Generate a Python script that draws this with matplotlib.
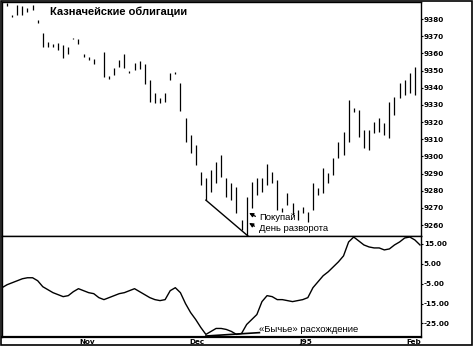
import matplotlib
matplotlib.use("Agg")
import matplotlib.pyplot as plt
from matplotlib.patches import Rectangle

# Daily bars for T-bonds: bar index, high, low
bar_idx = [1, 2, 3, 4, 5, 6, 7, 8, 9, 10, 11, 12, 13, 14, 15, 16, 17, 18, 20, 21,
           22, 23, 24, 25, 26, 27, 28, 29, 30, 31, 32, 33, 34, 35, 36, 37, 38, 39, 40, 41,
           42, 43, 44, 45, 46, 47, 48, 49, 50, 51, 52, 53, 54, 55, 56, 57, 58, 59, 60, 61,
           62, 63, 64, 65, 66, 67, 68, 69, 70, 71, 72, 73, 74, 75, 76, 77, 78, 79, 80, 81]
bar_high = [9389.3, 9382.3, 9388.1, 9387.6, 9386.4, 9388.1, 9379.4, 9371.9, 9366.6, 9365.5,
            9366.0, 9364.9, 9363.7, 9369.0, 9368.4, 9359.7, 9357.9, 9356.7, 9360.8, 9346.9,
            9351.5, 9356.2, 9359.7, 9349.8, 9354.4, 9355.6, 9353.8, 9344.5, 9337.0, 9334.1,
            9337.0, 9348.6, 9349.2, 9342.8, 9322.4, 9312.6, 9306.7, 9291.0, 9287.6, 9292.2,
            9296.9, 9300.9, 9287.6, 9284.7, 9282.3, 9263.1, 9276.5, 9285.2, 9287.6, 9287.6,
            9295.7, 9291.0, 9286.4, 9270.1, 9278.8, 9273.0, 9268.9, 9270.7, 9267.8, 9284.7,
            9281.8, 9293.4, 9290.5, 9299.2, 9308.5, 9314.3, 9332.9, 9328.3, 9327.1, 9315.5,
            9315.5, 9320.1, 9322.4, 9319.5, 9331.7, 9334.7, 9342.8, 9344.5, 9348.6, 9352.1]
bar_low = [9387.6, 9381.2, 9382.3, 9382.3, 9384.1, 9385.2, 9377.7, 9363.7, 9363.7, 9363.7,
           9362.0, 9357.3, 9359.7, 9368.4, 9365.5, 9357.9, 9356.2, 9353.8, 9346.3, 9345.1,
           9347.4, 9352.1, 9351.5, 9348.6, 9350.3, 9350.9, 9342.2, 9331.7, 9331.2, 9331.2,
           9331.7, 9344.5, 9348.0, 9326.5, 9308.5, 9302.1, 9295.1, 9283.5, 9274.8, 9279.4,
           9284.7, 9288.1, 9276.5, 9274.8, 9267.2, 9257.3, 9254.4, 9270.1, 9277.7, 9279.4,
           9283.5, 9284.7, 9269.0, 9267.8, 9271.9, 9266.0, 9263.1, 9267.2, 9262.0, 9269.0,
           9277.7, 9278.8, 9284.7, 9289.3, 9299.2, 9300.9, 9308.5, 9325.9, 9311.4, 9305.0,
           9303.8, 9313.7, 9314.3, 9312.6, 9310.8, 9324.2, 9334.1, 9335.8, 9337.0, 9335.8]

# Oscillator, one value per bar index 0..82
osc = [-7, -5.5, -4.5, -3.5, -2.5, -2, -2, -3.5, -6.5, -8,
       -9.5, -10.5, -11.5, -11, -9, -7.5, -8.5, -9.5, -10, -12,
       -13, -12, -11, -10, -9.5, -8.5, -7.5, -9, -10.5, -12,
       -13, -13.5, -13, -8.5, -7, -9.5, -15, -19.5, -23, -27,
       -30.5, -29, -27.5, -27.5, -28, -29, -30.5, -30, -25.5, -23,
       -20.5, -14, -11, -11.5, -13, -13, -13.5, -14, -13.5, -13,
       -12, -7, -4, -1, 1, 3.5, 6, 9, 16, 18.5,
       16.5, 14.5, 13.5, 13, 13, 12, 12.5, 14.5, 16, 18,
       18.5, 17, 14.5]

price_ticks = [9260, 9270, 9280, 9290, 9300, 9310, 9320, 9330, 9340, 9350, 9360, 9370, 9380]
osc_ticks = [-25, -15, -5, 5, 15]
month_pos = [16.7, 38.2, 59.6, 80.8]
month_labels = ["Nov", "Dec", "J95", "Feb"]

# trend line into the low and the flat "bullish divergence" line
trend_x = [40, 48.3]
trend_y = [9274.5, 9253.5]
div_x = [40, 50.5]
div_y = [-31.3, -29.6]

W, H = 476, 348
fig = plt.figure(figsize=(W / 100, H / 100), dpi=100)
fig.patch.set_facecolor("white")

def box(left, top, right, bottom):
    return [left / W, 1 - bottom / H, (right - left) / W, (bottom - top) / H]

ax = fig.add_axes(box(2, 2, 421, 236))
ax2 = fig.add_axes(box(2, 236, 421, 337), sharex=ax)

# price bars
ax.vlines(bar_idx, bar_low, bar_high, color="black", lw=0.9)
ax.plot(trend_x, trend_y, color="black", lw=1.0, clip_on=False)
ax.set_xlim(0, 82.2)
ax.set_ylim(9253.6, 9390)

ax.yaxis.tick_right()
ax.set_yticks(price_ticks)
ax.set_yticklabels([str(t) for t in price_ticks], fontsize=5.2, fontweight="bold")
ax.tick_params(axis="y", length=1.5, width=0.8, pad=0.5)
ax.tick_params(axis="x", bottom=False, labelbottom=False)

# labels with arrows at the reversal day
ax.annotate("", xy=(48.0, 9267.8), xytext=(50.2, 9264.3),
            arrowprops=dict(arrowstyle="-|>", lw=0.9, color="black", mutation_scale=6))
ax.annotate("", xy=(48.0, 9262.0), xytext=(50.0, 9258.5),
            arrowprops=dict(arrowstyle="-|>", lw=0.9, color="black", mutation_scale=6))
ax.text(50.4, 9264.3, "Покупай", fontsize=6.8, family="Liberation Sans", va="center", ha="left")
ax.text(50.4, 9258.0, "День разворота", fontsize=6.8, family="Liberation Sans", va="center", ha="left")

# oscillator panel
ax2.plot(range(len(osc)), osc, color="black", lw=1.0)
ax2.plot(div_x, div_y, color="black", lw=1.2)
ax2.set_ylim(-31.8, 19)
ax2.yaxis.tick_right()
ax2.set_yticks(osc_ticks)
ax2.set_yticklabels(["%.2f" % t for t in osc_ticks], fontsize=5.2, fontweight="bold")
ax2.tick_params(axis="y", length=1.5, width=0.8, pad=0.5)
ax2.set_xticks(month_pos)
ax2.set_xticklabels(month_labels, fontsize=5.2, fontweight="bold")
ax2.tick_params(axis="x", length=0, pad=1.5)
ax2.text(50.4, -28, "«Бычье» расхождение", fontsize=6.8, family="Liberation Sans",
         va="center", ha="left")

for a in (ax, ax2):
    for s in a.spines.values():
        s.set_linewidth(1.0)
ax2.spines["bottom"].set_linewidth(1.6)

fig.text(50 / W, 1 - 12 / H, "Казначейские облигации", fontsize=8.0, fontweight="bold",
         family="Liberation Sans", va="center", ha="left")

# outer frame around the whole picture
fig.patches.append(Rectangle((1 / W, 3 / H), 471 / W, 344 / H, transform=fig.transFigure,
                             fill=False, lw=1.2, color="black"))

fig.savefig("out.png", dpi=100)
